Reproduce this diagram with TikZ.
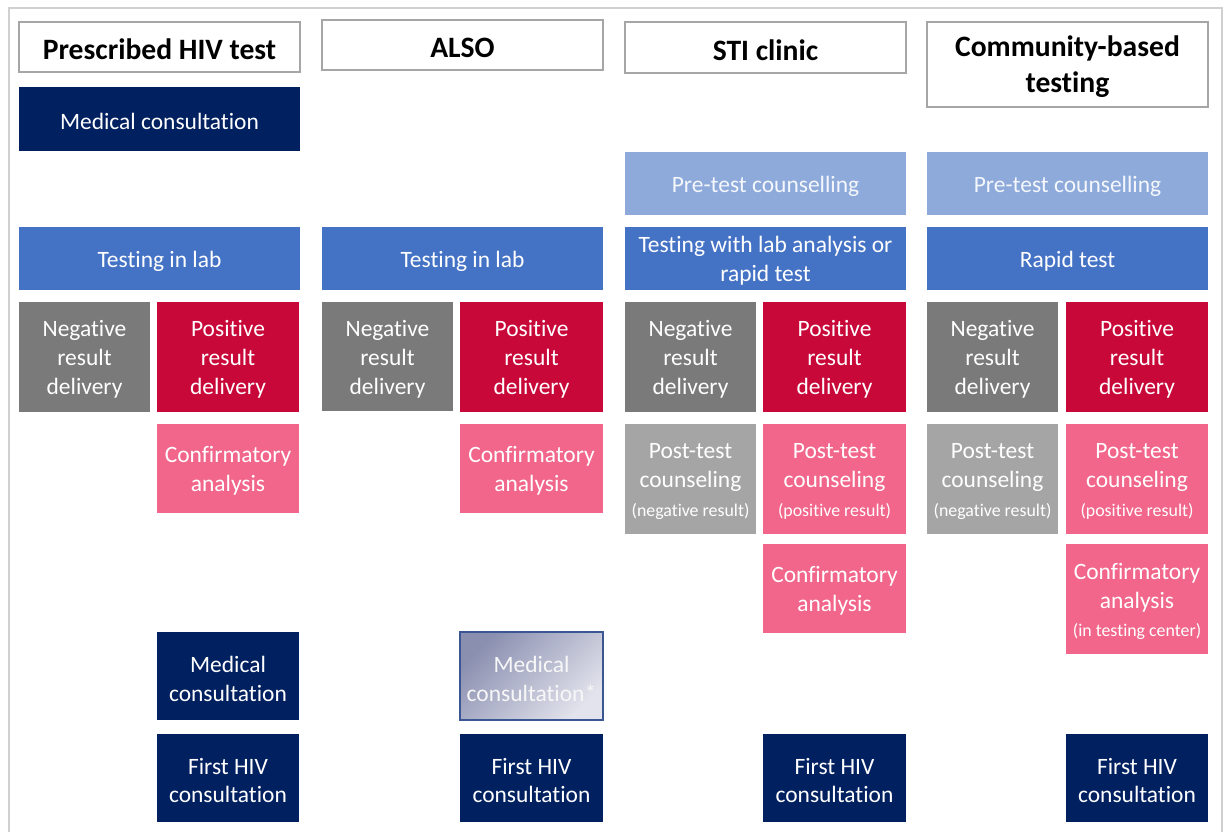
\documentclass[tikz,border=0pt]{standalone}
\usepackage{fontspec}
\setmainfont{Carlito}[Ligatures={NoCommon,NoContextual}]
\definecolor{navy}{HTML}{002060}
\definecolor{testc}{HTML}{4472C4}
\definecolor{prec}{HTML}{8EAADB}
\definecolor{negc}{HTML}{7A7A7A}
\definecolor{posc}{HTML}{C9083A}
\definecolor{pinkc}{HTML}{F1668A}
\definecolor{lgray}{HTML}{A5A5A5}
\definecolor{hdrline}{HTML}{A6A6A6}
\definecolor{framec}{HTML}{D0D0D0}
\definecolor{gA}{HTML}{8A8FB0}
\definecolor{gB}{HTML}{E2E3EC}
\definecolor{gborder}{HTML}{3A5794}
\newcommand\bx[7]{%
  \node[box,#6,minimum width={(#4-#2)*0.75pt},minimum height={(#5-#3)*0.75pt}] (#1) at ({(#2+#4)/2},{(#3+#5)/2}) {};
  \node[txt,#6 txt] (#1t) at ([yshift=-1.9pt]#1.center) {#7};}
\newcommand\smalltxt[1]{{\fontsize{13.4}{15}\selectfont #1}}
\tikzset{
  box/.style={inner sep=0pt},
  txt/.style={inner sep=0pt, align=center, text=white, font=\fontsize{17.6}{21.6}\selectfont},
  hdr/.style={draw=hdrline, line width=1.1pt, fill=white},
  hdr txt/.style={text=black, font=\fontsize{22.2}{27}\selectfont\bfseries},
  navybox/.style={fill=navy}, navybox txt/.style={},
  testbox/.style={fill=testc}, testbox txt/.style={},
  prebox/.style={fill=prec}, prebox txt/.style={text=white!90!prec},
  negbox/.style={fill=negc}, negbox txt/.style={},
  posbox/.style={fill=posc}, posbox txt/.style={},
  pinkbox/.style={fill=pinkc}, pinkbox txt/.style={},
  lgbox/.style={fill=lgray}, lgbox txt/.style={},
  gradbox/.style={draw=gborder, line width=0.9pt, top color=gA, bottom color=gB, shading angle=45},
  gradbox txt/.style={text=white!94!gray}
}
\begin{document}
\begin{tikzpicture}[x=0.75pt,y=-0.75pt]
\useasboundingbox (0,0) rectangle (1226,831);
\begin{scope}
\clip (0,0) rectangle (1226,831);
\draw[framec, line width=1.6pt] (9,845) -- (9,8) -- (1222,8) -- (1222,845);
\end{scope}
% headers
\bx{h1}{19}{22}{300}{72}{hdr}{Prescribed HIV test}
\bx{h2}{322}{20}{603}{70}{hdr}{ALSO}
\bx{h3}{625}{22}{906}{73}{hdr}{STI clinic}
\bx{h4}{927}{22}{1208}{107}{hdr}{Community-based\\testing}
% column 1
\bx{mc1}{19}{87}{300}{151}{navybox}{Medical consultation}
\bx{t1}{19}{227}{300}{290}{testbox}{Testing in lab}
\bx{n1}{19}{302}{150}{412}{negbox}{Negative\\result\\delivery}
\bx{p1}{157}{302}{299}{412}{posbox}{Positive\\result\\delivery}
\bx{c1}{157}{424}{299}{513}{pinkbox}{Confirmatory\\analysis}
\bx{m1}{157}{632}{299}{720}{navybox}{Medical\\consultation}
\bx{f1}{157}{734}{299}{822}{navybox}{First HIV\\consultation}
% column 2
\bx{t2}{322}{227}{603}{290}{testbox}{Testing in lab}
\bx{n2}{322}{302}{453}{411}{negbox}{Negative\\result\\delivery}
\bx{p2}{460}{302}{603}{412}{posbox}{Positive\\result\\delivery}
\bx{c2}{460}{424}{603}{513}{pinkbox}{Confirmatory\\analysis}
\bx{m2}{460}{632}{603}{720}{gradbox}{Medical\\consultation*}
\bx{f2}{460}{734}{603}{822}{navybox}{First HIV\\consultation}
% column 3
\bx{pr3}{625}{152}{906}{215}{prebox}{Pre-test counselling}
\bx{t3}{625}{227}{906}{290}{testbox}{Testing with lab analysis or\\rapid test}
\bx{n3}{625}{302}{756}{412}{negbox}{Negative\\result\\delivery}
\bx{p3}{763}{302}{906}{412}{posbox}{Positive\\result\\delivery}
\bx{pn3}{625}{424}{756}{534}{lgbox}{Post-test\\counseling\\\smalltxt{(negative result)}}
\bx{pp3}{763}{424}{906}{534}{pinkbox}{Post-test\\counseling\\\smalltxt{(positive result)}}
\bx{c3}{763}{544}{906}{633}{pinkbox}{Confirmatory\\analysis}
\bx{f3}{763}{734}{906}{822}{navybox}{First HIV\\consultation}
% column 4
\bx{pr4}{927}{152}{1208}{215}{prebox}{Pre-test counselling}
\bx{t4}{927}{227}{1208}{290}{testbox}{Rapid test}
\bx{n4}{927}{302}{1058}{412}{negbox}{Negative\\result\\delivery}
\bx{p4}{1066}{302}{1208}{412}{posbox}{Positive\\result\\delivery}
\bx{pn4}{927}{424}{1058}{534}{lgbox}{Post-test\\counseling\\\smalltxt{(negative result)}}
\bx{pp4}{1066}{424}{1208}{534}{pinkbox}{Post-test\\counseling\\\smalltxt{(positive result)}}
\bx{c4}{1066}{544}{1208}{654}{pinkbox}{Confirmatory\\analysis\\\smalltxt{(in testing center)}}
\bx{f4}{1066}{734}{1208}{822}{navybox}{First HIV\\consultation}
\end{tikzpicture}
\end{document}
